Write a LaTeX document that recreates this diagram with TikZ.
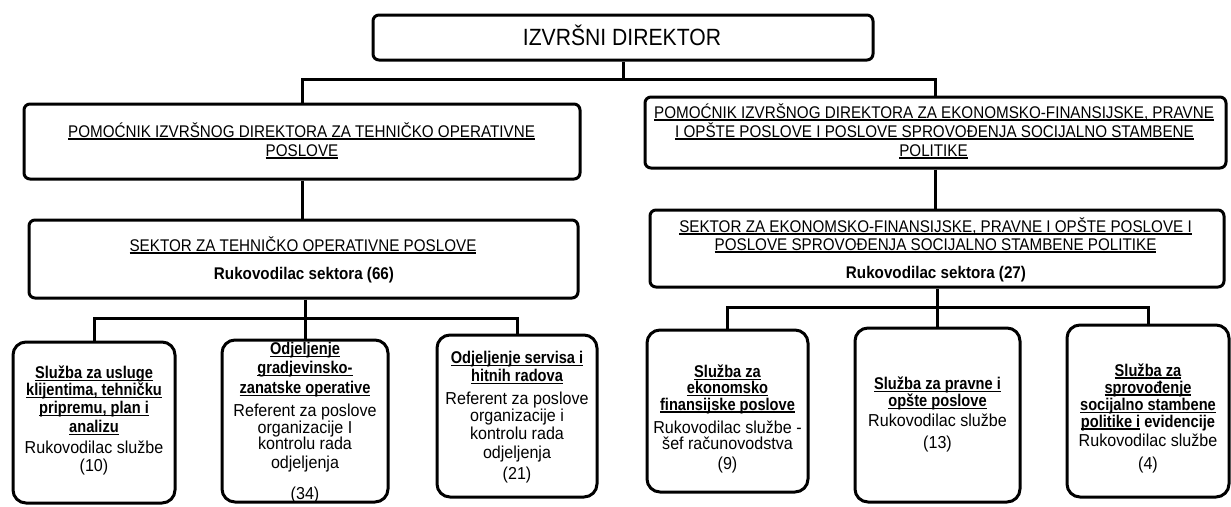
\documentclass[tikz,border=0pt]{standalone}
\usepackage{fontspec}
\setmainfont{Liberation Sans}[FakeStretch=0.9]
\newfontfamily\botfont{Liberation Sans}[FakeStretch=0.93]
\newfontfamily\botbold{Liberation Sans}[FakeStretch=0.86]
\newsavebox\ulbox
\newcommand\uln[1]{\sbox\ulbox{#1}\rlap{\rule[-2.6pt]{\wd\ulbox}{1.2pt}}\usebox\ulbox}
\newcommand\ttl[1]{{\botbold\bfseries\fontsize{17}{18}\selectfont\uln{#1}}}
\tikzset{
  box/.style={draw, line width=3pt, rounded corners=6pt, inner sep=0pt},
  sbox/.style={draw, line width=3pt, rounded corners=13pt, inner sep=0pt},
  conn/.style={line width=3pt},
  tl/.style={anchor=base, inner sep=0pt, font=\fontsize{16.9}{19}\selectfont},
  tt/.style={anchor=base, inner sep=0pt, font=\fontsize{23.5}{26}\selectfont},
  bl/.style={anchor=base, inner sep=0pt, font=\botfont\fontsize{17.3}{18}\selectfont},
}
\begin{document}
\begin{tikzpicture}[x=1pt,y=-1pt]
\useasboundingbox (0,0) rectangle (1231,506);
\fill[white] (0,0) rectangle (1231,506);

% boxes
\node[box, minimum width=500pt, minimum height=45pt] (top) at (623,37.5) {};
\node[box, minimum width=556pt, minimum height=75pt] (la) at (302,141.5) {};
\node[box, minimum width=549pt, minimum height=78pt] (ls) at (303.5,259) {};
\node[box, minimum width=581pt, minimum height=71pt] (ra) at (935.5,132.5) {};
\node[box, minimum width=574pt, minimum height=77pt] (rs) at (937,248.5) {};

\node[sbox, minimum width=162pt, minimum height=161pt] (b1) at (94,422.5) {};
\node[sbox, minimum width=166pt, minimum height=162pt] (b2) at (305,421) {};
\node[sbox, minimum width=160pt, minimum height=162pt] (b3) at (517,416) {};
\node[sbox, minimum width=161pt, minimum height=162pt] (b4) at (727.5,411) {};
\node[sbox, minimum width=165pt, minimum height=174pt] (b5) at (937.5,415) {};
\node[sbox, minimum width=162pt, minimum height=172pt] (b6) at (1148,411) {};

% connectors
\coordinate (busA) at (0,79);
\coordinate (busB) at (0,318);
\coordinate (busC) at (0,307);
\draw[conn] (top.south) -- (top.south |- busA);
\draw[conn] (la.north) |- (busA -| ra.north) -- (ra.north);
\draw[conn] (la.south) -- (la.south |- ls.north);
\draw[conn] (ra.south) -- (ra.south |- rs.north);
\draw[conn] (ls.south -| b2.north) -- (b2.north);
\draw[conn] (b1.north) |- (busB -| b3.north) -- (b3.north);
\draw[conn] (rs.south -| b5.north) -- (b5.north);
\draw[conn] (b4.north) |- (busC -| b6.north) -- (b6.north);

% upper texts
\node[tt] (tTop) at (622,45) {IZVRŠNI DIREKTOR};
\node[tl] (tLa1) at (301.5,137) {\uln{POMOĆNIK IZVRŠNOG DIREKTORA ZA TEHNIČKO OPERATIVNE}};
\node[tl] (tLa2) at (302,156) {\uln{POSLOVE}};
\node[tl] (tLs1) at (303,251) {\uln{SEKTOR ZA TEHNIČKO OPERATIVNE POSLOVE}};
\node[tl] (tLs2) at (304,279) {\bfseries Rukovodilac sektora (66)};
\node[tl] (tRa1) at (934,118) {\uln{POMOĆNIK IZVRŠNOG DIREKTORA ZA EKONOMSKO-FINANSIJSKE, PRAVNE}};
\node[tl] (tRa2) at (934.5,137) {\uln{I OPŠTE POSLOVE I POSLOVE SPROVOĐENJA SOCIJALNO STAMBENE}};
\node[tl] (tRa3) at (933.5,156) {\uln{POLITIKE}};
\node[tl] (tRs1) at (935.5,232) {\uln{SEKTOR ZA EKONOMSKO-FINANSIJSKE, PRAVNE I OPŠTE POSLOVE I}};
\node[tl] (tRs2) at (935.5,250) {\uln{POSLOVE SPROVOĐENJA SOCIJALNO STAMBENE POLITIKE}};
\node[tl] (tRs3) at (936,278) {\bfseries Rukovodilac sektora (27)};

% bottom texts
\foreach \yy/\txt [count=\i] in {
  378.5/{\ttl{Služba za usluge}},
  395.5/{\ttl{klijentima, tehničku}},
  413.5/{\ttl{pripremu, plan i}},
  432.5/{\ttl{analizu}},
  453.5/{Rukovodilac službe},
  471.5/{(10)}}
  \node[bl] (bA\i) at (94,\yy) {\txt};
\foreach \yy/\txt [count=\i] in {
  354.5/{\ttl{Odjeljenje}},
  373.5/{\ttl{gradjevinsko-}},
  393.5/{\ttl{zanatske operative}},
  416.5/{Referent za poslove},
  433.5/{organizacije I},
  449.5/{kontrolu rada},
  468.5/{odjeljenja},
  499.5/{(34)}}
  \node[bl] (bB\i) at (305,\yy) {\txt};
\foreach \yy/\txt [count=\i] in {
  363.5/{\ttl{Odjeljenje servisa i}},
  381.5/{\ttl{hitnih radova}},
  404.5/{Referent za poslove},
  421.5/{organizacije i},
  439.5/{kontrolu rada},
  458.5/{odjeljenja},
  479.5/{(21)}}
  \node[bl] (bC\i) at (517,\yy) {\txt};
\foreach \yy/\txt [count=\i] in {
  377.5/{\ttl{Služba za}},
  393.5/{\ttl{ekonomsko}},
  410/{\ttl{finansijske poslove}},
  433.5/{Rukovodilac službe -},
  449.5/{šef računovodstva},
  469.5/{(9)}}
  \node[bl] (bD\i) at (727.5,\yy) {\txt};
\foreach \yy/\txt [count=\i] in {
  389.5/{\ttl{Služba za pravne i}},
  406.5/{\ttl{opšte poslove}},
  426.5/{Rukovodilac službe},
  448.5/{(13)}}
  \node[bl] (bE\i) at (937.5,\yy) {\txt};
\foreach \yy/\txt [count=\i] in {
  376/{\ttl{Služba za}},
  393/{\ttl{sprovođenje}},
  410.5/{\ttl{socijalno stambene}},
  427/{\ttl{politike i}{\botbold\bfseries\fontsize{17}{18}\selectfont\ evidencije}},
  446.5/{Rukovodilac službe},
  469.5/{(4)}}
  \node[bl] (bF\i) at (1148,\yy) {\txt};
\end{tikzpicture}
\end{document}
